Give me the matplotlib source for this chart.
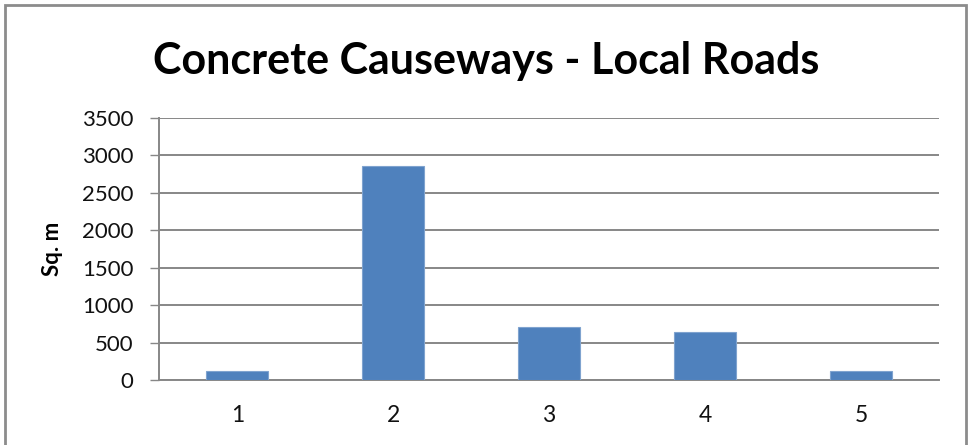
import matplotlib
matplotlib.use("Agg")
import matplotlib.pyplot as plt
from matplotlib.patches import Rectangle

# Data
categories = [1, 2, 3, 4, 5]
areas_sq_m = [125, 2860, 705, 640, 125]
y_ticks = [0, 500, 1000, 1500, 2000, 2500, 3000, 3500]

title = "Concrete Causeways - Local Roads"
y_label = "Sq. m"

BAR_COLOR = "#4F81BD"
GRID_COLOR = "#878787"
FONT = ["Lato", "DejaVu Sans"]

plt.rcParams["font.family"] = FONT

fig = plt.figure(figsize=(9.70, 4.45), dpi=100)
ax = fig.add_axes([0.1642, 0.146, 0.968 - 0.1642, 0.7355 - 0.146])

ax.bar(categories, areas_sq_m, width=0.4, color=BAR_COLOR,
       edgecolor="#7FA3CF", linewidth=0.8, zorder=3)

ax.set_xlim(0.5, 5.5)
ax.set_ylim(0, 3500)
ax.set_yticks(y_ticks)
ax.set_yticklabels([str(v) for v in y_ticks], fontsize=16)
ax.set_xticks(categories)
ax.set_xticklabels([str(c) for c in categories], fontsize=16.5)

ax.yaxis.grid(True, color=GRID_COLOR, linewidth=1.4, zorder=0)
ax.set_axisbelow(True)

for side in ("top", "right"):
    ax.spines[side].set_visible(False)
for side in ("left", "bottom"):
    ax.spines[side].set_color(GRID_COLOR)
    ax.spines[side].set_linewidth(1.4)

ax.tick_params(axis="y", direction="out", length=6.5, width=1.0,
               color=GRID_COLOR, pad=12, labelcolor="#111111")
ax.tick_params(axis="x", length=0, pad=18, labelcolor="#111111")

ax.set_ylabel(y_label, fontsize=16, fontweight="bold")
ax.yaxis.set_label_coords(-0.1240, 0.5)

fig.text(0.5017, 0.862, title, ha="center", va="center",
         fontsize=31, fontweight="bold")

# Chart-area frame (open at the bottom, where the figure is cut off)
frame = Rectangle((5.5 / 970, -0.1), (966 - 5.5) / 970, 1 - 5.5 / 445 + 0.1,
                  transform=fig.transFigure, fill=False,
                  edgecolor="#8C8C8C", linewidth=2.0, clip_on=False)
fig.patches.append(frame)

fig.savefig("out.png", dpi=100, facecolor="white")
